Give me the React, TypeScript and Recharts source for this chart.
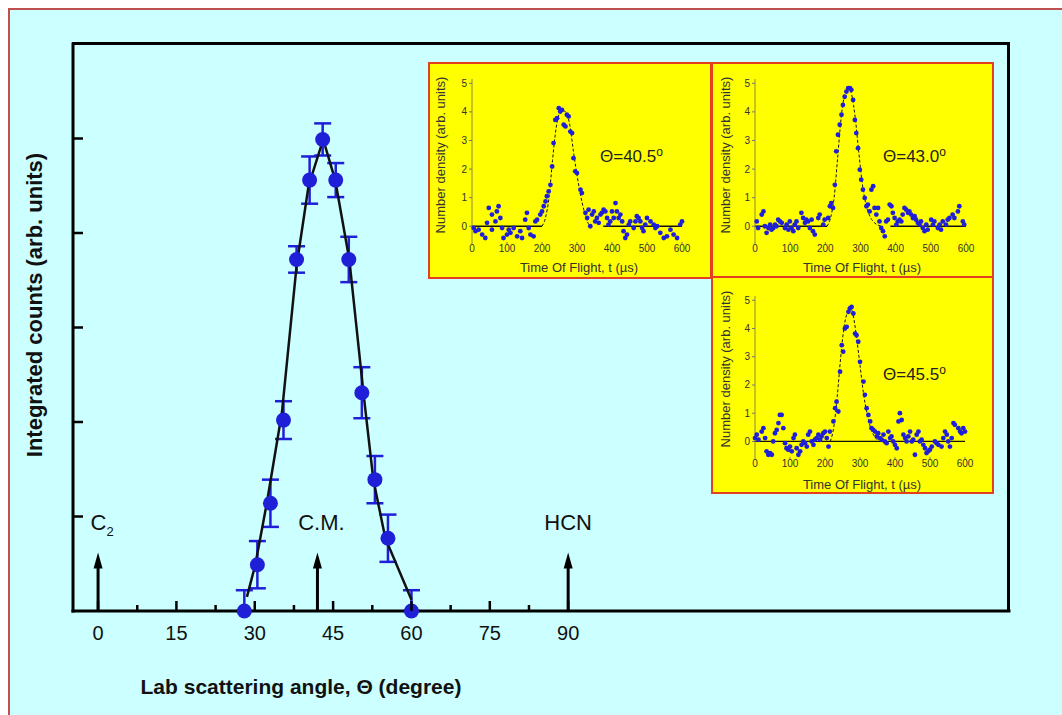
import React from "react";
import { ComposedChart, Scatter, Line, XAxis, YAxis, ErrorBar, ReferenceLine } from "recharts";

// main panel: integrated counts vs lab angle
const labAngles = [28, 30.5, 33, 35.5, 38, 40.5, 43, 45.5, 48, 50.5, 53, 55.5, 60];
const counts = [0, 0.49, 1.14, 2.02, 3.72, 4.56, 4.99, 4.56, 3.72, 2.31, 1.39, 0.77, 0];
const errLow = [0, 0.25, 0.25, 0.2, 0.14, 0.25, 0.17, 0.18, 0.24, 0.27, 0.25, 0.25, 0];
const errHigh = [0.22, 0.25, 0.25, 0.2, 0.14, 0.25, 0.17, 0.18, 0.24, 0.27, 0.25, 0.25, 0.22];

const fitAngles = [28.5, 30.1, 32.3, 35.2, 38, 40.3, 43.1, 45.4, 48.1, 50.8, 52.7, 55, 60];
const fitCounts = [0.15, 0.49, 1.14, 2.1, 3.65, 4.5, 4.99, 4.56, 3.72, 2.31, 1.39, 0.77, 0.12];

const angleTicks = [0, 7.5, 15, 22.5, 30, 37.5, 45, 52.5, 60, 67.5, 75, 82.5, 90];
const angleLabels = [0, 15, 30, 45, 60, 75, 90];
const countTicks = [1, 2, 3, 4, 5];

const arrowAngles = [0, 42, 90];
const arrowNames = ["C", "C.M.", "HCN"];
const arrowSubs = ["2", "", ""];
const arrowTop = 0.62;

// insets: time-of-flight spectra
const tofTicks = [0, 100, 200, 300, 400, 500, 600];
const densTicks = [0, 1, 2, 3, 4, 5];

const tof1Times = [
  5, 10, 19, 29, 38, 43, 48, 57, 57, 67,
  71, 76, 81, 86, 90, 100, 105, 110, 119, 129,
  138, 143, 152, 157, 162, 167, 176, 181, 186, 195,
  200, 205, 210, 214, 219, 224, 229, 233, 238, 243,
  248, 252, 257, 262, 267, 271, 276, 281, 286, 290,
  295, 300, 310, 314, 324, 329, 333, 338, 343, 348,
  352, 357, 362, 367, 371, 376, 381, 386, 390, 395,
  400, 405, 410, 414, 419, 424, 429, 433, 438, 443,
  448, 452, 462, 467, 471, 476, 481, 486, 490, 495,
  500, 510, 519, 524, 529, 538, 548, 557, 567, 576,
  586, 595, 600,
];
const tof1Dens = [
  -0.06, -0.17, -0.12, -0.29, -0.41, 0.12, 0.64, 0.41, -0.12, 0.17,
  0.52, 0.7, 0.29, -0.06, -0.41, -0.29, -0.12, -0.23, -0.06, -0.35,
  -0.17, -0.41, 0.23, 0.47, -0.06, -0.29, -0.35, 0.17, 0.23, 0.41,
  0.52, 0.7, 0.87, 1.05, 1.22, 1.45, 2.09, 2.91, 3.72, 3.78,
  4.13, 4.01, 4.07, 3.55, 3.49, 3.9, 3.84, 3.31, 3.26, 2.38,
  1.92, 1.86, 1.28, 1.16, 0.47, 0.29, 0.58, 0, 0.41, 0.52,
  0.17, 0.29, 0.12, 0.41, 0.47, 0.58, 0.52, 0.29, 0.06, 0.17,
  0.52, 0.29, 0.81, 0.52, 0.29, 0.41, 0.17, -0.17, -0.41, -0.29,
  0.06, 0.17, -0.06, 0.17, 0.35, 0.29, 0.17, -0.06, -0.17, 0.06,
  0.29, 0.17, 0.06, -0.06, 0, -0.23, -0.41, -0.35, -0.12, -0.29,
  -0.41, 0.06, 0.17,
];
const fit1Times = [200, 210, 220, 230, 240, 250, 260, 270, 280, 290, 300, 310, 320, 330, 340];
const fit1Dens = [0, 0.3, 1.0, 2.3, 3.4, 3.95, 4.05, 3.95, 3.5, 2.6, 1.8, 1.1, 0.55, 0.15, 0];
const base1From = [0, 375];
const base1To = [200, 600];

const tof2Times = [
  5, 9, 19, 24, 28, 33, 38, 43, 47, 52,
  57, 61, 66, 71, 76, 85, 90, 95, 99, 104,
  109, 113, 118, 123, 132, 137, 142, 146, 151, 156,
  161, 165, 170, 180, 184, 194, 198, 208, 213, 217,
  222, 227, 231, 236, 241, 246, 250, 255, 260, 265,
  270, 274, 279, 284, 288, 293, 298, 302, 307, 312,
  317, 321, 326, 331, 336, 340, 345, 350, 354, 359,
  364, 369, 373, 378, 383, 388, 392, 397, 402, 406,
  411, 416, 420, 425, 430, 435, 439, 444, 449, 454,
  458, 463, 468, 472, 477, 482, 487, 491, 501, 506,
  510, 520, 525, 529, 534, 543, 548, 553, 562, 567,
  577, 581, 591, 595,
];
const tof2Dens = [
  0.17, -0.06, 0.41, 0.52, 0, -0.23, -0.06, 0.06, -0.12, -0.06,
  0.06, 0, 0.23, 0.17, 0.12, -0.06, 0.06, -0.12, 0.17, -0.06,
  -0.17, 0.06, 0.17, -0.06, 0.47, 0.29, 0.12, 0.23, 0.17, -0.06,
  0.23, -0.17, -0.29, 0.29, 0.41, 0.06, 0.23, 0.29, 0.7, 0.81,
  0.64, 1.45, 2.62, 3.2, 3.55, 3.9, 4.24, 4.53, 4.71, 4.83,
  4.83, 4.77, 4.42, 3.72, 3.26, 2.73, 1.98, 1.63, 1.28, 0.99,
  0.7, 0.76, 0.52, 1.28, 1.4, 0.64, 0.41, 0.64, 0.17, -0.06,
  -0.17, -0.35, 0.17, 0.23, 0.76, 0.7, 0.47, 0.29, 0.06, 0.17,
  0.23, 0.17, 0.41, 0.64, 0.58, 0.47, 0.52, 0.41, 0.29, 0.35,
  0.23, 0.12, 0.06, 0.17, -0.06, -0.17, 0.06, -0.12, 0.23, 0.06,
  0.17, -0.06, 0.06, -0.12, 0.17, 0.06, 0.23, 0.29, 0.41, 0.29,
  0.52, 0.7, 0.17, 0.06,
];
const fit2Times = [205, 215, 225, 235, 245, 255, 265, 275, 285, 295, 305, 315, 325, 340, 360];
const fit2Dens = [0, 0.3, 1.0, 2.4, 3.8, 4.6, 4.85, 4.6, 3.8, 2.6, 1.5, 0.8, 0.4, 0.12, 0];
const base2From = [0, 385];
const base2To = [205, 600];

const tof3Times = [
  0, 5, 10, 19, 24, 29, 33, 38, 43, 48,
  52, 57, 62, 67, 71, 76, 81, 86, 90, 95,
  100, 105, 110, 114, 119, 124, 129, 133, 138, 143,
  148, 152, 157, 162, 167, 171, 176, 181, 186, 190,
  195, 200, 205, 210, 214, 224, 229, 233, 238, 243,
  248, 252, 257, 262, 267, 271, 276, 281, 286, 290,
  295, 300, 310, 314, 319, 324, 329, 333, 338, 343,
  348, 352, 357, 362, 367, 371, 376, 381, 386, 390,
  395, 400, 405, 410, 414, 419, 424, 429, 433, 438,
  443, 448, 452, 457, 462, 467, 471, 476, 481, 486,
  490, 495, 500, 505, 514, 519, 524, 533, 538, 543,
  548, 552, 557, 562, 567, 571, 581, 586, 590, 595,
  600,
];
const tof3Dens = [
  0.12, 0.24, 0.06, 0.35, 0.47, 0.12, -0.35, -0.47, -0.41, -0.47,
  0, 0.29, 0.41, 0.65, 0.94, 0.94, 0.47, -0.06, -0.24, -0.29,
  -0.18, -0.35, 0.12, 0.24, -0.24, -0.47, -0.35, -0.12, 0, -0.06,
  -0.18, 0.24, 0.35, 0, -0.12, 0.06, 0.12, 0.24, 0.06, 0.18,
  0.29, 0.35, 0.12, -0.18, 0.35, 0.71, 1.18, 1.41, 1.06, 2.47,
  3.41, 3.18, 4.0, 4.06, 4.59, 4.71, 4.76, 4.53, 3.82, 3.76,
  3.53, 2.82, 2.12, 1.65, 1.18, 0.94, 0.71, 0.47, 0.41, 0.35,
  0.18, 0.29, 0.12, 0.06, 0.24, 0, -0.06, 0.35, 0.12, 0.18,
  0, -0.12, -0.24, 0.71, 1.0, 0.76, 0.24, 0.12, 0, 0.18,
  0.35, 0, 0.06, -0.47, 0.24, 0.35, 0, 0.06, -0.12, -0.24,
  -0.41, -0.35, -0.29, -0.18, 0, -0.06, -0.12, -0.18, 0.12, 0.35,
  0.24, 0, -0.18, 0.12, 0.65, 0.59, 0.47, 0.35, 0.29, 0.47,
  0.35,
];
const fit3Times = [215, 225, 235, 245, 255, 265, 272, 280, 290, 300, 310, 320, 330, 340, 355];
const fit3Dens = [0, 0.5, 1.6, 3.0, 4.1, 4.6, 4.75, 4.5, 3.7, 2.7, 1.7, 1.0, 0.5, 0.2, 0.03];
const base3From = [0];
const base3To = [600];

const FONT = "'Liberation Sans', Arial, Helvetica, sans-serif";
const BLUE = "#1f1fd8";

const mainPoints = labAngles.map((x, i) => ({ x, y: counts[i], err: [errLow[i], errHigh[i]] }));
const fitPoints = fitAngles.map((x, i) => ({ x, y: fitCounts[i] }));

const AngleTick = (props: any) => {
  const { x, y, payload } = props;
  const major = angleLabels.includes(payload.value);
  return (
    <g>
      <line x1={x} x2={x} y1={y} y2={y - (major ? 10 : 6)} stroke="#000" strokeWidth={2.5} />
      {major && (
        <text x={x} y={y + 29} textAnchor="middle" fontSize={20} fontFamily={FONT} fill="#111">
          {payload.value}
        </text>
      )}
    </g>
  );
};

const CountTick = (props: any) => {
  const { x, y } = props;
  return <line x1={x} x2={x + 10} y1={y} y2={y} stroke="#000" strokeWidth={2.5} />;
};

const arrowShape = (i: number) => (p: any) => {
  const { x1, y1, y2 } = p;
  return (
    <g>
      <line x1={x1} x2={x1} y1={y1} y2={y2 + 12} stroke="#000" strokeWidth={3} />
      <polygon points={`${x1},${y2} ${x1 - 4.5},${y2 + 16} ${x1 + 4.5},${y2 + 16}`} fill="#000" />
      <text x={x1 + (i === 2 ? 0 : 4)} y={y2 - 22} textAnchor="middle" fontSize={22} fontFamily={FONT} fill="#111">
        {arrowNames[i]}
        {arrowSubs[i] && (
          <tspan fontSize={13} dy={6}>
            {arrowSubs[i]}
          </tspan>
        )}
      </text>
    </g>
  );
};

// small tick label for the insets
const TofTick = (props: any) => {
  const { x, y, payload, textAnchor } = props;
  const isY = textAnchor === "end";
  return (
    <text
      x={x}
      y={isY ? y + 3.5 : y + 8}
      textAnchor={isY ? "end" : "middle"}
      fontSize={10}
      fontFamily={FONT}
      fill="#333"
    >
      {payload.value}
    </text>
  );
};

type InsetProps = {
  left: number;
  top: number;
  width: number;
  height: number;
  margin: { top: number; right: number };
  axisLeft: number;
  axisBottom: number;
  times: number[];
  dens: number[];
  fitT: number[];
  fitN: number[];
  baseFrom: number[];
  baseTo: number[];
  angle: string;
  labelTop: number;
  titleTop: number;
  yTitleLeft: number;
};

const Inset = (props: InsetProps) => {
  const { left, top, width, height, margin, times, dens, fitT, fitN, baseFrom, baseTo, angle } = props;
  const pts = times.map((t, i) => ({ t, n: dens[i] }));
  const fit = fitT.map((t, i) => ({ t, n: fitN[i] }));
  return (
    <div
      style={{
        position: "absolute",
        left,
        top,
        width,
        height,
        background: "#ffff00",
        boxShadow: "inset 0 0 0 2px #e2401e",
      }}
    >
      <ComposedChart width={width} height={height} margin={{ top: margin.top, right: margin.right, bottom: 0, left: 0 }}>
        <XAxis
          type="number"
          dataKey="t"
          domain={[0, 600]}
          ticks={tofTicks}
          interval={0}
          height={props.axisBottom}
          axisLine={false}
          tickSize={2}
          tickMargin={0}
          tickLine={{ stroke: "#777" }}
          tick={<TofTick />}
        />
        <YAxis
          type="number"
          dataKey="n"
          domain={[-0.55, 5.15]}
          ticks={densTicks}
          interval={0}
          width={props.axisLeft}
          axisLine={{ stroke: "#8a8a3a", strokeWidth: 1 }}
          tickLine={{ stroke: "#777" }}
          tickSize={3}
          tickMargin={2}
          tick={<TofTick />}
        />
        {baseFrom.map((b, i) => (
          <ReferenceLine
            key={i}
            segment={[
              { x: b, y: 0 },
              { x: baseTo[i], y: 0 },
            ]}
            stroke="#111"
            strokeWidth={1.3}
          />
        ))}
        <Scatter
          data={pts}
          dataKey="n"
          isAnimationActive={false}
          shape={(p: any) => <circle cx={p.cx} cy={p.cy} r={2.4} fill={BLUE} />}
        />
        <Line
          data={fit}
          dataKey="n"
          type="monotone"
          stroke="#111"
          strokeWidth={1}
          strokeDasharray="3 2"
          dot={false}
          isAnimationActive={false}
        />
      </ComposedChart>
      <div
        style={{
          position: "absolute",
          left: 172,
          top: props.labelTop,
          transform: "translateY(-50%)",
          fontSize: 17,
          lineHeight: 1,
          color: "#222",
          whiteSpace: "nowrap",
        }}
      >
        {angle}
        <sup style={{ fontSize: 12, verticalAlign: "6px" }}>o</sup>
      </div>
      <div
        style={{
          position: "absolute",
          left: 151,
          top: props.titleTop,
          transform: "translate(-50%, -50%)",
          fontSize: 13,
          lineHeight: 1,
          color: "#333",
          whiteSpace: "nowrap",
        }}
      >
        Time Of Flight, t (µs)
      </div>
      <div
        style={{
          position: "absolute",
          left: props.yTitleLeft,
          top: 93,
          transform: "translate(-50%, -50%) rotate(-90deg)",
          fontSize: 13,
          lineHeight: 1,
          color: "#333",
          whiteSpace: "nowrap",
        }}
      >
        Number density (arb. units)
      </div>
    </div>
  );
};

export default function App() {
  return (
    <div
      style={{
        position: "absolute",
        left: 0,
        top: 0,
        width: 1062,
        height: 715,
        overflow: "hidden",
        background: "#fff",
        fontFamily: FONT,
      }}
    >
      <div
        style={{
          position: "absolute",
          left: 8,
          top: 8,
          width: 1062,
          height: 715,
          background: "#ccffff",
          borderLeft: "2px solid #c0504d",
          borderTop: "2px solid #c0504d",
        }}
      />
      <div style={{ position: "absolute", left: 0, top: 0 }}>
        <ComposedChart width={1062} height={715} margin={{ top: 44, right: 53, bottom: 0, left: 0 }}>
          <XAxis
            type="number"
            dataKey="x"
            domain={[-4.8, 174.4]}
            ticks={angleTicks}
            interval={0}
            height={104}
            tickSize={0}
            tickMargin={0}
            tickLine={false}
            axisLine={{ stroke: "#000", strokeWidth: 3, strokeLinecap: "square" }}
            tick={<AngleTick />}
          />
          <YAxis
            type="number"
            dataKey="y"
            domain={[0, 6]}
            ticks={countTicks}
            interval={0}
            width={73}
            tickSize={0}
            tickMargin={0}
            tickLine={false}
            axisLine={{ stroke: "#000", strokeWidth: 3, strokeLinecap: "square" }}
            tick={<CountTick />}
          />
          {arrowAngles.map((a, i) => (
            <ReferenceLine
              key={a}
              segment={[
                { x: a, y: 0 },
                { x: a, y: arrowTop },
              ]}
              shape={arrowShape(i)}
            />
          ))}
          <Scatter
            data={mainPoints}
            dataKey="y"
            isAnimationActive={false}
            shape={(p: any) => <circle cx={p.cx} cy={p.cy} r={7.5} fill={BLUE} />}
          >
            <ErrorBar dataKey="err" direction="y" width={8.5} stroke={BLUE} strokeWidth={2.5} />
          </Scatter>
          <Line
            data={fitPoints}
            dataKey="y"
            type="linear"
            stroke="#111"
            strokeWidth={2.5}
            dot={false}
            isAnimationActive={false}
          />
        </ComposedChart>
      </div>
      {/* top and right edges of the main frame */}
      <div
        style={{
          position: "absolute",
          left: 72,
          top: 42,
          width: 938,
          height: 570,
          boxSizing: "border-box",
          borderTop: "3px solid #000",
          borderRight: "3px solid #000",
          pointerEvents: "none",
        }}
      />
      <div
        style={{
          position: "absolute",
          left: 301,
          top: 686,
          transform: "translate(-50%, -50%)",
          fontSize: 21,
          fontWeight: "bold",
          lineHeight: 1,
          color: "#111",
          whiteSpace: "nowrap",
        }}
      >
        Lab scattering angle, Θ (degree)
      </div>
      <div
        style={{
          position: "absolute",
          left: 35,
          top: 305,
          transform: "translate(-50%, -50%) rotate(-90deg)",
          fontSize: 22,
          fontWeight: "bold",
          lineHeight: 1,
          color: "#111",
          whiteSpace: "nowrap",
        }}
      >
        Integrated counts (arb. units)
      </div>
      <Inset
        left={428}
        top={62}
        width={284}
        height={217}
        margin={{ top: 17, right: 30 }}
        axisLeft={44}
        axisBottom={37}
        times={tof1Times}
        dens={tof1Dens}
        fitT={fit1Times}
        fitN={fit1Dens}
        baseFrom={base1From}
        baseTo={base1To}
        angle="Θ=40.5"
        labelTop={93}
        titleTop={205}
        yTitleLeft={12}
      />
      <Inset
        left={711}
        top={62}
        width={283}
        height={216}
        margin={{ top: 17, right: 28 }}
        axisLeft={44}
        axisBottom={36}
        times={tof2Times}
        dens={tof2Dens}
        fitT={fit2Times}
        fitN={fit2Dens}
        baseFrom={base2From}
        baseTo={base2To}
        angle="Θ=43.0"
        labelTop={93}
        titleTop={205}
        yTitleLeft={14}
      />
      <Inset
        left={711}
        top={276}
        width={283}
        height={218}
        margin={{ top: 20, right: 29 }}
        axisLeft={44}
        axisBottom={37}
        times={tof3Times}
        dens={tof3Dens}
        fitT={fit3Times}
        fitN={fit3Dens}
        baseFrom={base3From}
        baseTo={base3To}
        angle="Θ=45.5"
        labelTop={97}
        titleTop={208}
        yTitleLeft={14}
      />
    </div>
  );
}
